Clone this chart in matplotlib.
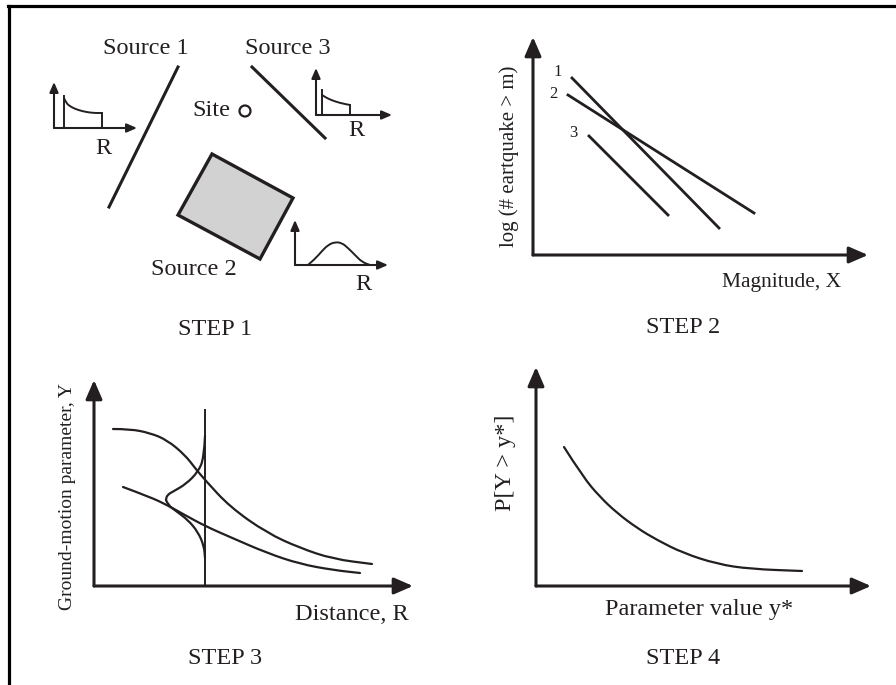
import numpy as np
import matplotlib
matplotlib.use('Agg')
import matplotlib.pyplot as plt
from matplotlib.patches import Polygon, Circle, PathPatch
from matplotlib.path import Path
from matplotlib.lines import Line2D

# four-step PSHA sketch, every panel in pixel-sized local units (origin = axis corner)
W, H = 896, 685
INK = '#231f20'
plt.rcParams['font.family'] = ['Liberation Serif', 'DejaVu Serif']

# --- step 1: sources around the site
source1_x = [168, 99]
source1_y = [273, 133]
source3_x = [242, 315]
source3_y = [273, 202]
area_x = [202, 283, 250, 168]
area_y = [186, 142, 81, 125]
site_xy = (235, 229)

# small distance pdfs (local to each inset origin)
pdf1_bar = (10, 32)
pdf1_curve_x = [10, 12, 17, 24, 32, 40, 48]
pdf1_curve_y = [30, 25, 21, 18, 16, 15, 15]
pdf3_bar = (6, 25)
pdf3_curve_x = [6, 9, 15, 24, 34]
pdf3_curve_y = [20, 18, 15, 12, 10]
pdf2_x = [13, 20, 27, 33, 40, 47, 53, 60, 67, 75]
pdf2_y = [0, 6, 14, 20, 23, 22, 17, 10, 3, 0]

# --- step 2: recurrence lines
rec_labels = ['1', '2', '3']
rec_x = [[39, 186], [35, 221], [56, 135]]
rec_y = [[177, 27], [160, 42], [119, 40]]
rec_label_xy = [(25, 183), (20, 161), (40, 122)]

# --- step 3: attenuation curves
gm_upper_x = [19, 36, 56, 73, 91, 101, 111, 136, 173, 206, 239, 278]
gm_upper_y = [157, 157, 153, 146, 131, 118, 106, 79, 53, 38, 27, 22]
gm_lower_x = [29, 56, 73, 89, 111, 136, 173, 206, 239, 266]
gm_lower_y = [99, 89, 81, 72, 60, 49, 33, 22, 16, 13]
dist_r = 111
dist_top = 176
scatter_top_x = [111, 110, 104, 92, 80, 73, 72]
scatter_top_y = [150, 128, 114, 102, 95, 91, 86]
scatter_bot_x = [72, 74, 82, 94, 104, 110, 111]
scatter_bot_y = [86, 81, 75, 66, 54, 40, 28]

# --- step 4: hazard curve
haz_x = [28, 47, 64, 81, 101, 121, 147, 181, 214, 266]
haz_y = [139, 109, 89, 73, 58, 46, 33, 22, 17, 15]

fig = plt.figure(figsize=(W / 100, H / 100), dpi=100)
fig.patch.set_facecolor('white')


def panel(x0, y0, w, h):
    # x0, y0: pixel of the axis corner (image coords, y down); w, h extents
    ax = fig.add_axes([x0 / W, (H - y0) / H, w / W, h / H])
    ax.set_xlim(0, w)
    ax.set_ylim(0, h)
    ax.axis('off')
    return ax


def arrows(ax, w, h, lw, hl, hw):
    style = f'-|>,head_length={hl},head_width={hw}'
    for tip in [(w, 0), (0, h)]:
        ax.annotate('', xy=tip, xytext=(0, 0), annotation_clip=False,
                    arrowprops=dict(arrowstyle=style, lw=lw, color=INK,
                                    shrinkA=0, shrinkB=0, mutation_scale=10))


def smooth(ax, xs, ys, lw):
    # quadratic bezier through the midpoints, read points used as controls
    p = np.column_stack([xs, ys]).astype(float)
    verts, codes = [p[0]], [Path.MOVETO]
    for i in range(1, len(p) - 1):
        verts += [p[i], (p[i] + p[i + 1]) / 2]
        codes += [Path.CURVE3, Path.CURVE3]
    verts.append(p[-1])
    codes.append(Path.LINETO)
    ax.add_patch(PathPatch(Path(verts, codes), fill=False, edgecolor=INK,
                           lw=lw, clip_on=False, capstyle='round'))


def txt(ax, xy, s, size=17.5, **kw):
    ax.text(xy[0], xy[1], s, fontsize=size, color=INK, ha='center',
            va='center', clip_on=False, **kw)


# frame (top and left only)
fig.add_artist(Line2D([8 / W, 1], [1 - 5.5 / H, 1 - 5.5 / H], lw=2.3, color='black'))
fig.add_artist(Line2D([9 / W, 9 / W], [0, 1 - 5.5 / H], lw=2.3, color='black'))

# STEP 1
ax1 = panel(10, 340, 435, 330)
ax1.plot(source1_x, source1_y, color=INK, lw=2.2, clip_on=False)
ax1.plot(source3_x, source3_y, color=INK, lw=2.2, clip_on=False)
ax1.add_patch(Polygon(np.column_stack([area_x, area_y]), closed=True,
                      facecolor='#d2d2d2', edgecolor=INK, lw=2.4))
ax1.add_patch(Circle(site_xy, 5.5, facecolor='white', edgecolor=INK, lw=1.6))
txt(ax1, (136, 291), 'Source 1')
txt(ax1, (278, 291), 'Source 3')
txt(ax1, (201, 230), 'Site')
txt(ax1, (184, 70), 'Source 2')
txt(ax1, (205, 10), 'STEP 1')

steps = [((54, 128, 83, 46), pdf1_bar, pdf1_curve_x, pdf1_curve_y, (49, -20)),
         ((316, 115, 76, 47), pdf3_bar, pdf3_curve_x, pdf3_curve_y, (40, -16))]
for (x0, y0, w, h), bar, cx, cy, rxy in steps:
    axi = panel(x0, y0, w, h)
    arrows(axi, w, h, 1.5, 0.6, 0.26)
    axi.plot([bar[0], bar[0]], [0, bar[1]], color=INK, lw=1.4)
    smooth(axi, cx, cy, 1.4)
    axi.plot([cx[-1], cx[-1]], [cy[-1], 0], color=INK, lw=1.4)
    txt(axi, rxy, 'R')

axb = panel(295, 265, 93, 45)
arrows(axb, 93, 45, 1.5, 0.6, 0.26)
smooth(axb, pdf2_x, pdf2_y, 1.4)
txt(axb, (68, -20), 'R')

# STEP 2
ax2 = panel(533, 255, 335, 218)
arrows(ax2, 335, 218, 2.2, 1.15, 0.5)
for lab, xs, ys, lxy in zip(rec_labels, rec_x, rec_y, rec_label_xy):
    ax2.plot(xs, ys, color=INK, lw=2.0)
    txt(ax2, lxy, lab, size=12)
txt(ax2, (-24, 99), 'log (# eartquake > m)', size=15, rotation=90)
txt(ax2, (249, -28), 'Magnitude, X', size=15.5)
txt(ax2, (150, -72), 'STEP 2')

# STEP 3
ax3 = panel(94, 586, 319, 206)
arrows(ax3, 319, 206, 2.2, 1.15, 0.5)
smooth(ax3, gm_upper_x, gm_upper_y, 1.6)
smooth(ax3, gm_lower_x, gm_lower_y, 1.6)
ax3.plot([dist_r, dist_r], [0, dist_top], color=INK, lw=1.4)
smooth(ax3, scatter_top_x, scatter_top_y, 1.6)
smooth(ax3, scatter_bot_x, scatter_bot_y, 1.6)
txt(ax3, (-26, 89), 'Ground-motion parameter, Y', size=14, rotation=90)
txt(ax3, (258, -28), 'Distance, R')
txt(ax3, (131, -72), 'STEP 3')

# STEP 4
ax4 = panel(536, 586, 335, 219)
arrows(ax4, 335, 219, 2.2, 1.15, 0.5)
smooth(ax4, haz_x, haz_y, 1.6)
txt(ax4, (-31, 123), 'P[Y > y*]', rotation=90)
txt(ax4, (163, -23), 'Parameter value y*')
txt(ax4, (147, -72), 'STEP 4')

fig.savefig('out.png', dpi=100, facecolor='white')
